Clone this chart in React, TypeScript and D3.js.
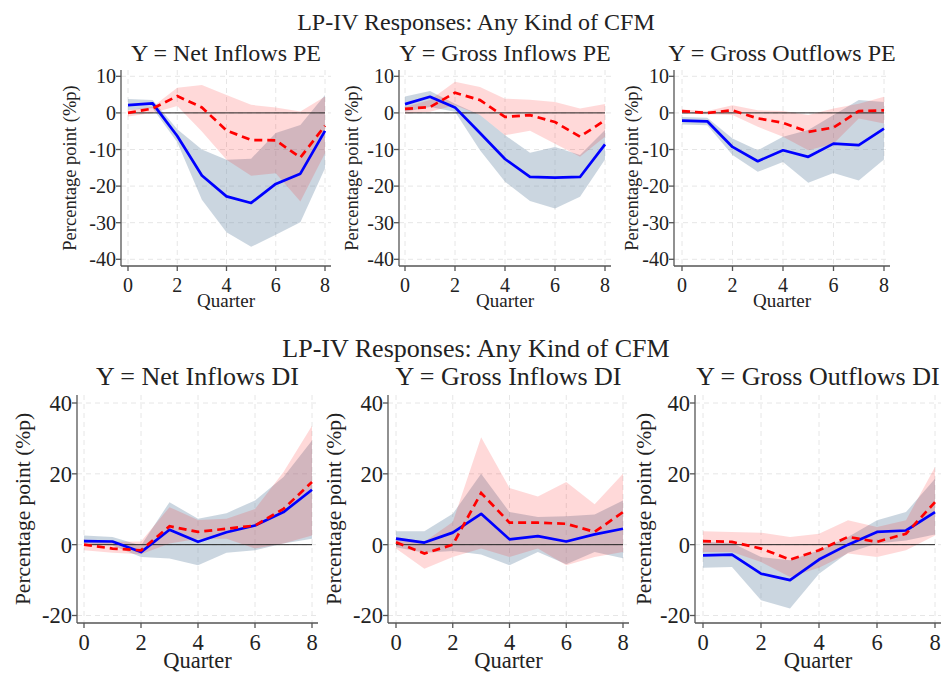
import React from "react";
import * as d3 from "d3";

const quarters = [0, 1, 2, 3, 4, 5, 6, 7, 8];
const xTicks = [0, 2, 4, 6, 8];
const topYTicks = [10, 0, -10, -20, -30, -40];
const bottomYTicks = [40, 20, 0, -20];
const mainTitle = "LP-IV Responses: Any Kind of CFM";
const xLabel = "Quarter";
const yLabel = "Percentage point (%p)";
const panelTitles = [
  "Y = Net Inflows PE",
  "Y = Gross Inflows PE",
  "Y = Gross Outflows PE",
  "Y = Net Inflows DI",
  "Y = Gross Inflows DI",
  "Y = Gross Outflows DI",
];

// Net Inflows PE
const netPE_blue = [2.1, 2.6, -6.3, -17.1, -22.8, -24.6, -19.4, -16.6, -4.9];
const netPE_blueHi = [3.8, 3.5, -4.5, -10, -12.8, -12.5, -5.5, -3.3, 4.9];
const netPE_blueLo = [0.8, 1.3, -8, -23.7, -32.6, -36.6, -33.3, -29.9, -15.1];
const netPE_red = [0, 1.2, 4.6, 1.5, -4.8, -7.4, -7.5, -12.2, -3.5];
const netPE_redHi = [0.8, 1.7, 6.9, 7.6, 4.9, 2.2, 1.5, 0.4, 4.5];
const netPE_redLo = [-1, 0, 1.9, -5.1, -12.8, -17.2, -16.5, -24.2, -11];

// Gross Inflows PE
const grossInPE_blue = [2.4, 4.4, 1.5, -5.5, -12.6, -17.5, -17.7, -17.5, -8.6];
const grossInPE_blueHi = [4.5, 6, 2.5, -0.6, -6.1, -10.9, -9.3, -11.5, -4.7];
const grossInPE_blueLo = [0.3, 1.6, 0.3, -10.2, -18.8, -24.1, -26.1, -22.9, -12.7];
const grossInPE_red = [1.1, 1.6, 5.5, 3.5, -1.1, -0.6, -2.5, -6.5, -2];
const grossInPE_redHi = [1.6, 3.5, 8.5, 7.1, 3.9, 3.6, 3, 1.2, 2.4];
const grossInPE_redLo = [-0.2, 0.3, 2.1, -0.6, -6.1, -4.9, -8.4, -12, -6.5];

// Gross Outflows PE
const grossOutPE_blue = [-2.1, -2.3, -9.3, -13.2, -10.2, -12, -8.4, -8.8, -4.3];
const grossOutPE_blueHi = [-1.1, -1.3, -7, -10.2, -6.5, -4.7, -0.6, 3.5, 3];
const grossOutPE_blueLo = [-3.2, -3.4, -11.5, -16.1, -13.4, -19.1, -16.4, -18.5, -12.7];
const grossOutPE_red = [0.5, 0, 0.7, -1.5, -2.7, -5.2, -4, 0.5, 0.7];
const grossOutPE_redHi = [0.9, 0.5, 2.1, 0.7, 0.5, -0.6, 1.2, 2.5, 4.4];
const grossOutPE_redLo = [-0.2, -0.4, -0.6, -3.8, -6.5, -10.2, -8.4, -1.5, -2.9];

// Net Inflows DI
const netDI_blue = [1, 0.9, -2.1, 4.2, 0.8, 3.5, 5.4, 9.2, 15.5];
const netDI_blueHi = [2.6, 2.2, -0.2, 12, 7.3, 8.9, 12.5, 19.1, 29.4];
const netDI_blueLo = [0.3, -0.2, -3.5, -3.9, -5.8, -2.3, -1.6, 0.3, 1.7];
const netDI_red = [0, -1.1, -1.6, 5.2, 3.6, 4.5, 5.4, 10.1, 17.7];
const netDI_redHi = [1.4, 0.8, 0.9, 10.6, 7, 7.3, 10.1, 20.5, 33.6];
const netDI_redLo = [-1.6, -2.3, -2.7, 0.3, 1.7, 1.7, -1.1, 0.3, 2.6];

// Gross Inflows DI
const grossInDI_blue = [1.7, 0.6, 3.4, 8.7, 1.5, 2.4, 0.9, 2.9, 4.5];
const grossInDI_blueHi = [3.8, 3.8, 8.7, 20, 9.2, 7.8, 8, 8.5, 12.5];
const grossInDI_blueLo = [-0.7, -2.3, -1.8, -2.8, -5.8, -2.1, -5.5, -2.1, -3.8];
const grossInDI_red = [0.7, -2.5, 0, 14.6, 6.2, 6.2, 5.9, 3.6, 9.2];
const grossInDI_redHi = [2.2, 0.8, 6.4, 30.3, 16, 13.6, 17.7, 11.4, 20];
const grossInDI_redLo = [-1.1, -6.8, -3.5, -1.1, -3.5, -1.1, -5.8, -3.5, -2.1];

// Gross Outflows DI
const grossOutDI_blue = [-3, -2.8, -8.2, -10, -4.2, 0, 3.6, 4, 9.2];
const grossOutDI_blueHi = [0.8, 0.5, -3.5, -4.4, -1.6, 2.2, 6.9, 9.2, 18.6];
const grossOutDI_blueLo = [-6.5, -6.3, -15.7, -18, -8.2, -2.3, 0.3, 1.2, 2.9];
const grossOutDI_red = [1, 0.8, -1.1, -4.2, -1.6, 2.2, 0.8, 3.1, 12];
const grossOutDI_redHi = [3.8, 3.6, 3.4, 2.2, 3.1, 6.9, 5, 6.9, 21.9];
const grossOutDI_redLo = [-2.1, -2.1, -4.9, -9.1, -6.5, -2.5, -3.5, -1.6, 2.6];

const seriesSets = [
  [netPE_blue, netPE_blueHi, netPE_blueLo, netPE_red, netPE_redHi, netPE_redLo],
  [grossInPE_blue, grossInPE_blueHi, grossInPE_blueLo, grossInPE_red, grossInPE_redHi, grossInPE_redLo],
  [grossOutPE_blue, grossOutPE_blueHi, grossOutPE_blueLo, grossOutPE_red, grossOutPE_redHi, grossOutPE_redLo],
  [netDI_blue, netDI_blueHi, netDI_blueLo, netDI_red, netDI_redHi, netDI_redLo],
  [grossInDI_blue, grossInDI_blueHi, grossInDI_blueLo, grossInDI_red, grossInDI_redHi, grossInDI_redLo],
  [grossOutDI_blue, grossOutDI_blueHi, grossOutDI_blueLo, grossOutDI_red, grossOutDI_redHi, grossOutDI_redLo],
];

const FONT = "'Liberation Serif', 'DejaVu Serif', serif";

type Layout = {
  axisX: number; x0: number; x8: number;
  yDomain: [number, number]; yRange: [number, number];
  top: number; bottom: number;
  ticks: number[];
  titleY: number; tickLabelY: number; xLabelY: number; yLabelX: number;
  tickFont: number; titleFont: number; labelFont: number; xLabelFont: number;
};

const topCommon = {
  yDomain: [10, -40] as [number, number], yRange: [76.3, 259.3] as [number, number],
  top: 70, bottom: 266, ticks: topYTicks,
  titleY: 61, tickLabelY: 292, xLabelY: 307,
  tickFont: 20, titleFont: 24, labelFont: 18.5, xLabelFont: 19,
};
const botCommon = {
  yDomain: [40, -20] as [number, number], yRange: [403, 615.5] as [number, number],
  top: 395, bottom: 623, ticks: bottomYTicks,
  titleY: 385, tickLabelY: 650, xLabelY: 668,
  tickFont: 22.5, titleFont: 26, labelFont: 21.5, xLabelFont: 22.5,
};

const layouts: Layout[] = [
  { ...topCommon, axisX: 121, x0: 128, x8: 325, yLabelX: 70 },
  { ...topCommon, axisX: 399, x0: 405, x8: 605, yLabelX: 352 },
  { ...topCommon, axisX: 674, x0: 682, x8: 884, yLabelX: 632 },
  { ...botCommon, axisX: 77, x0: 84, x8: 312, yLabelX: 22 },
  { ...botCommon, axisX: 388, x0: 396, x8: 623, yLabelX: 333 },
  { ...botCommon, axisX: 695, x0: 703, x8: 935, yLabelX: 643 },
];

function Panel({ idx }: { idx: number }) {
  const L = layouts[idx];
  const [blue, blueHi, blueLo, red, redHi, redLo] = seriesSets[idx];
  const x = d3.scaleLinear().domain([0, 8]).range([L.x0, L.x8]);
  const y = d3.scaleLinear().domain(L.yDomain).range(L.yRange);
  const right = L.x8 + 6;
  const area = (hi: number[], lo: number[]) =>
    d3.area<number>().x((q) => x(q)).y0((_, i) => y(lo[i])).y1((_, i) => y(hi[i]))(quarters) || "";
  const line = (v: number[]) =>
    d3.line<number>().x((q) => x(q)).y((_, i) => y(v[i]))(quarters) || "";
  const cx = (L.axisX + right) / 2;
  const cy = (L.top + L.bottom) / 2;
  return (
    <g>
      {xTicks.map((t) => (
        <line key={"gx" + t} x1={x(t)} x2={x(t)} y1={L.top} y2={L.bottom}
          stroke="#e6e6e6" strokeWidth={1} strokeDasharray="5,4" />
      ))}
      {L.ticks.map((t) => (
        <line key={"gy" + t} x1={L.axisX} x2={right} y1={y(t)} y2={y(t)}
          stroke="#e6e6e6" strokeWidth={1} strokeDasharray="5,4" />
      ))}
      <path d={area(blueHi, blueLo)} fill="#6e8caa" fillOpacity={0.36} />
      <path d={area(redHi, redLo)} fill="#ff0000" fillOpacity={0.15} />
      <line x1={x(0)} x2={x(8)} y1={y(0)} y2={y(0)} stroke="#222" strokeWidth={1} />
      <path d={line(blue)} fill="none" stroke="#0000ff" strokeWidth={2.7} strokeLinejoin="round" />
      <path d={line(red)} fill="none" stroke="#ff0000" strokeWidth={2.7} strokeDasharray="8,5" />
      <line x1={L.axisX} x2={L.axisX} y1={L.top} y2={L.bottom} stroke="#555" strokeWidth={1.3} />
      <line x1={L.axisX} x2={right} y1={L.bottom} y2={L.bottom} stroke="#555" strokeWidth={1.3} />
      {L.ticks.map((t) => (
        <g key={"ty" + t}>
          <line x1={L.axisX - 5} x2={L.axisX} y1={y(t)} y2={y(t)} stroke="#555" strokeWidth={1.3} />
          <text x={L.axisX - 5} y={y(t)} dy="0.35em" textAnchor="end" fontSize={L.tickFont}
            fontFamily={FONT} fill="#222">{t}</text>
        </g>
      ))}
      {xTicks.map((t) => (
        <g key={"tx" + t}>
          <line x1={x(t)} x2={x(t)} y1={L.bottom} y2={L.bottom + 5} stroke="#555" strokeWidth={1.3} />
          <text x={x(t)} y={L.tickLabelY} textAnchor="middle" fontSize={L.tickFont}
            fontFamily={FONT} fill="#222">{t}</text>
        </g>
      ))}
      <text x={cx} y={L.xLabelY} textAnchor="middle" fontSize={L.xLabelFont} fontFamily={FONT} fill="#222">{xLabel}</text>
      <text transform={`translate(${L.yLabelX},${cy}) rotate(-90)`} dy="0.35em" textAnchor="middle"
        fontSize={L.labelFont} fontFamily={FONT} fill="#222">{yLabel}</text>
      <text x={cx} y={L.titleY} textAnchor="middle" fontSize={L.titleFont} fontFamily={FONT} fill="#222">{panelTitles[idx]}</text>
    </g>
  );
}

export default function App() {
  return (
    <svg width={945} height={673} style={{ position: "absolute", left: 0, top: 0, background: "#fff" }}>
      <rect width={945} height={673} fill="#fff" />
      <text x={476} y={30} textAnchor="middle" fontSize={24} fontFamily={FONT} fill="#222">{mainTitle}</text>
      <text x={476} y={357} textAnchor="middle" fontSize={26} fontFamily={FONT} fill="#222">{mainTitle}</text>
      {layouts.map((_, i) => <Panel key={i} idx={i} />)}
    </svg>
  );
}
